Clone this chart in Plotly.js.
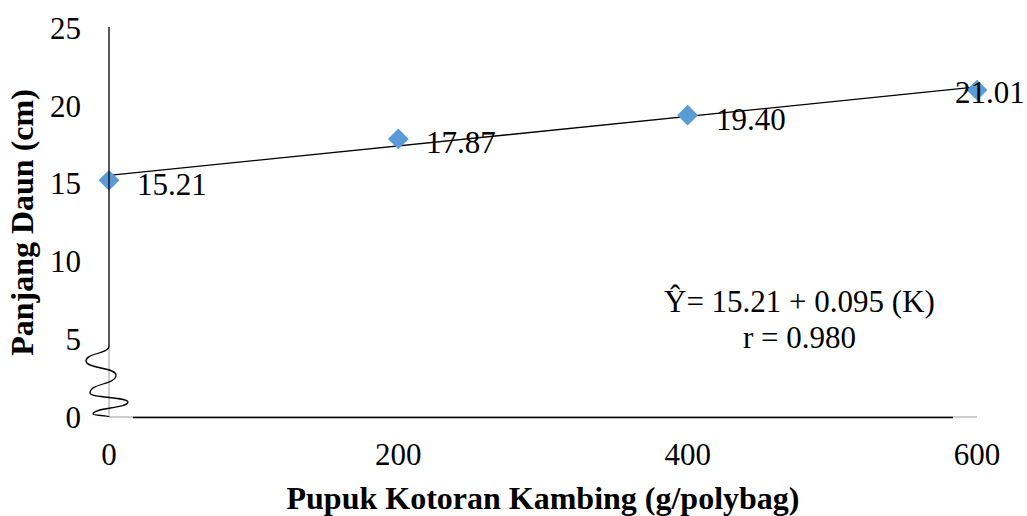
<!DOCTYPE html>
<html>
<head>
<meta charset="utf-8">
<script src="https://cdn.plot.ly/plotly-3.0.1.min.js"></script>
<style>html,body{margin:0;padding:0;background:#fff;}#chart{width:1027px;height:516px;}</style>
</head>
<body>
<div id="chart"></div>
<script>
// ---- data ----
var dosis = [0, 200, 400, 600];
var panjangDaun = [15.21, 17.87, 19.40, 21.01];
var labelTeks = ['15.21', '17.87', '19.40', '21.01'];
var trendX = [0, 600];
var trendY = [15.53, 21.21];
var xTicks = [0, 200, 400, 600];
var yTicks = [0, 5, 10, 15, 20, 25];
var persamaan = 'Ŷ= 15.21 + 0.095 (K)';
var korelasi = 'r = 0.980';
var judulX = 'Pupuk Kotoran Kambing (g/polybag)';
var judulY = 'Panjang Daun (cm)';

// ---- layout geometry ----
var W = 1027, H = 516;
var M = {l: 109, r: 50, t: 28, b: 99, pad: 0};
var pw = W - M.l - M.r, ph = H - M.t - M.b;
function PX(px) { return (px - M.l) / pw; }
function PY(py) { return (H - M.b - py) / ph; }
var FONT = 'Liberation Serif, "Times New Roman", serif';

// axis-break squiggle (decoration) in pixel space
var sq = [[109,346],[86,361],[116,375],[90,393],[128,402],[93,414],[109,417]];
var d = 'M' + PX(sq[0][0]) + ',' + PY(sq[0][1]);
for (var i = 1; i < sq.length; i++) {
  var a = sq[i-1], b = sq[i], k = (b[1]-a[1]) * 0.55;
  d += ' C' + PX(a[0]) + ',' + PY(a[1]+k) + ' ' + PX(b[0]) + ',' + PY(b[1]-k) + ' ' + PX(b[0]) + ',' + PY(b[1]);
}

var shapes = [
  {type:'line', xref:'paper', yref:'paper', x0:PX(109), x1:PX(977), y0:PY(417), y1:PY(417), line:{color:'#9a9a9a', width:1}},
  {type:'line', xref:'paper', yref:'paper', x0:PX(133), x1:PX(953), y0:PY(417.5), y1:PY(417.5), line:{color:'#000', width:1.6}},
  {type:'line', xref:'paper', yref:'paper', x0:PX(109), x1:PX(109), y0:PY(346), y1:PY(417), line:{color:'#9a9a9a', width:1}},
  {type:'line', xref:'paper', yref:'paper', x0:PX(109), x1:PX(109), y0:PY(27), y1:PY(346), line:{color:'#000', width:1.3}},
  {type:'path', xref:'paper', yref:'paper', path:d, line:{color:'#000', width:1.3}}
];

var annotations = [];
for (var j = 0; j < dosis.length; j++) {
  var last = (j === dosis.length - 1);
  annotations.push({
    x: dosis[j], y: panjangDaun[j], xref:'x', yref:'y',
    text: labelTeks[j], showarrow:false,
    xanchor:'left', yanchor:'middle',
    xshift: last ? -24 : 26, yshift: last ? -2 : -4,
    font:{family:FONT, size:31, color:'#000'}
  });
}
annotations.push({xref:'paper', yref:'paper', x:PX(799), y:PY(301), text:persamaan, showarrow:false,
  xanchor:'center', yanchor:'middle', font:{family:FONT, size:31, color:'#000'}});
annotations.push({xref:'paper', yref:'paper', x:PX(799), y:PY(337), text:korelasi, showarrow:false,
  xanchor:'center', yanchor:'middle', font:{family:FONT, size:31, color:'#000'}});

var traces = [
  {x: trendX, y: trendY, mode:'lines', line:{color:'#000', width:1.3}, hoverinfo:'skip', showlegend:false, cliponaxis:false},
  {x: dosis, y: panjangDaun, mode:'markers', marker:{symbol:'diamond', size:16, color:'#5B9BD5'}, showlegend:false, cliponaxis:false}
];

var layout = {
  width: W, height: H,
  margin: M,
  paper_bgcolor:'#fff', plot_bgcolor:'#fff',
  font:{family:FONT, size:31, color:'#000'},
  showlegend:false,
  xaxis:{
    range:[0, 600], tickvals:xTicks, ticktext:xTicks.map(String),
    showgrid:false, zeroline:false, showline:false, ticks:'', ticklabelstandoff:16,
    tickfont:{family:FONT, size:31, color:'#000'},
    title:{text:judulX, standoff:17, font:{family:FONT, size:32, color:'#000', weight:'bold'}},
    automargin:false, fixedrange:true
  },
  yaxis:{
    range:[0, 25], tickvals:yTicks, ticktext:yTicks.map(String),
    showgrid:false, zeroline:false, showline:false, ticks:'', ticklabelstandoff:27,
    tickfont:{family:FONT, size:31, color:'#000'},
    title:{text:judulY, standoff:6, font:{family:FONT, size:32, color:'#000', weight:'bold'}},
    automargin:false, fixedrange:true
  },
  shapes: shapes,
  annotations: annotations
};

Plotly.newPlot('chart', traces, layout, {displayModeBar:false, staticPlot:true});
</script>
</body>
</html>
